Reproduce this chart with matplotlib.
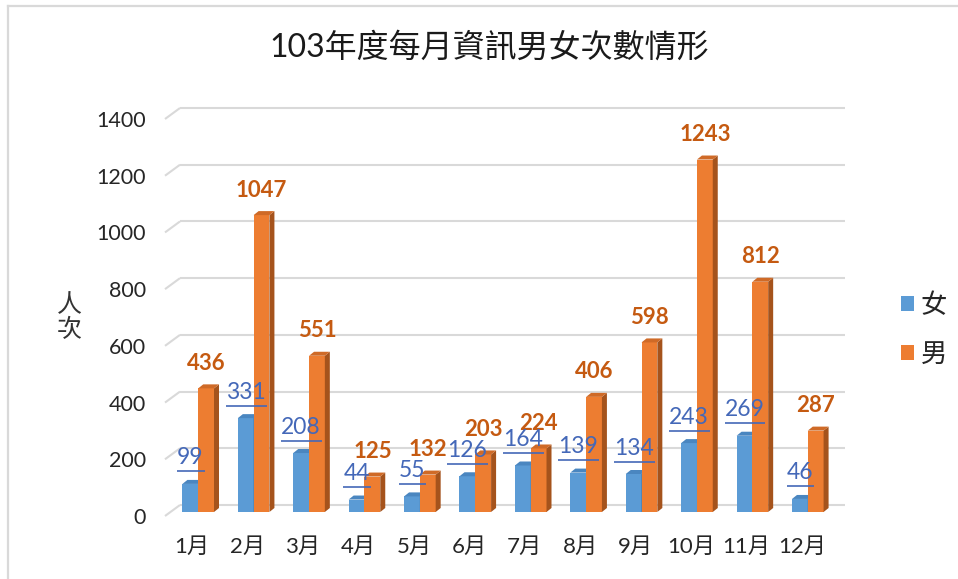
import matplotlib
matplotlib.use('Agg')
import matplotlib.pyplot as plt
from matplotlib.patches import Polygon, Patch
from matplotlib.lines import Line2D
from matplotlib.transforms import ScaledTranslation
import numpy as np

# ---------------- data ----------------
months = ['1月', '2月', '3月', '4月', '5月', '6月', '7月', '8月', '9月', '10月', '11月', '12月']
female = [99, 331, 208, 44, 55, 126, 164, 139, 134, 243, 269, 46]
male = [436, 1047, 551, 125, 132, 203, 224, 406, 598, 1243, 812, 287]
yticks = [0, 200, 400, 600, 800, 1000, 1200, 1400]
series_names = ['女', '男']
title = '103年度每月資訊男女次數情形'
ylabel = '人次'

# ---------------- style ----------------
plt.rcParams['font.family'] = ['Lato', 'Noto Sans CJK TC', 'DejaVu Sans']
W, H = 958, 579
DPI = 100
fig = plt.figure(figsize=(W / DPI, H / DPI), dpi=DPI)
fig.patch.set_facecolor('white')

ax_left, ax_right, ax_bottom, ax_top = 170.5, 835.5, 512, 115
ax = fig.add_axes([ax_left / W, (H - ax_bottom) / H, (ax_right - ax_left) / W, (ax_bottom - ax_top) / H])
xmin, xmax = -0.5, 11.5
ymin, ymax = 0, 1400
ax.set_xlim(xmin, xmax)
ax.set_ylim(ymin, ymax)
ax.patch.set_alpha(0)
for s in ax.spines.values():
    s.set_visible(False)

ux = (xmax - xmin) / (ax_right - ax_left)   # data units per pixel (x)
uy = (ymax - ymin) / (ax_bottom - ax_top)   # data units per pixel (y)

grid_c = '#D9D9D9'
# back wall gridlines + left wall diagonals
for v in yticks:
    ax.plot([xmin + 9.5 * ux, xmax + 9.5 * ux], [v + 7 * uy, v + 7 * uy],
            color=grid_c, lw=1.5, clip_on=False, zorder=0, solid_capstyle='butt')
    ax.plot([xmin - 5.5 * ux, xmin + 9.5 * ux], [v - 4 * uy, v + 7 * uy],
            color=grid_c, lw=1.5, clip_on=False, zorder=0, solid_capstyle='butt')

x = np.arange(len(months))
w = 0.285
ddx, ddy = 5 * ux, 4 * uy

colors = {
    '女': ('#5B9BD5', '#4A86C0', '#41719C'),
    '男': ('#ED7D31', '#CF6A27', '#A5531C'),
}

def draw_3d(bars, top, side, z):
    for b in bars:
        x0 = b.get_x()
        x1 = x0 + b.get_width()
        h = b.get_height()
        ax.add_patch(Polygon([(x1, 0), (x1 + ddx, ddy), (x1 + ddx, h + ddy), (x1, h)],
                             closed=True, facecolor=side, edgecolor='none', zorder=z, clip_on=False))
        ax.add_patch(Polygon([(x0, h), (x0 + ddx, h + ddy), (x1 + ddx, h + ddy), (x1, h)],
                             closed=True, facecolor=top, edgecolor='none', zorder=z, clip_on=False))

fb = ax.bar(x - w, female, w, align='edge', color=colors['女'][0], zorder=2, clip_on=False)
draw_3d(fb, colors['女'][1], colors['女'][2], 2)
mb = ax.bar(x, male, w, align='edge', color=colors['男'][0], zorder=3, clip_on=False)
draw_3d(mb, colors['男'][1], colors['男'][2], 3)

# ticks
ax.set_yticks(yticks)
ax.set_yticklabels([str(t) for t in yticks])
ax.set_xticks(x)
ax.set_xticklabels(months)
ax.tick_params(axis='y', length=0, pad=(ax_left - 146) * 0.72, labelsize=15.5, labelcolor='#262626')
ax.tick_params(axis='x', length=0, pad=18, labelsize=16, labelcolor='#262626')
for lbl in ax.get_yticklabels():
    lbl.set_transform(lbl.get_transform() + ScaledTranslation(0, -4 / DPI, fig.dpi_scale_trans))
for lbl in ax.get_xticklabels():
    lbl.set_transform(lbl.get_transform() + ScaledTranslation(-6 / DPI, 0, fig.dpi_scale_trans))

# data labels
blue_lbl_c = '#4468B8'
orange_lbl_c = '#C55A11'
for xi, v in zip(x, male):
    ax.annotate(str(v), xy=(xi + w / 2, v), xytext=(0, 25 * 0.72), textcoords='offset points',
                ha='center', va='center', fontsize=16, fontweight='bold', color=orange_lbl_c,
                zorder=6, annotation_clip=False)
blue_texts = []
for xi, v in zip(x, female):
    t = ax.annotate(str(v), xy=(xi - w / 2, v), xytext=(0, 26 * 0.72), textcoords='offset points',
                    ha='center', va='center', fontsize=16.5, color=blue_lbl_c,
                    zorder=6, annotation_clip=False)
    blue_texts.append((t, v))

fig.canvas.draw()
inv = ax.transData.inverted()
for t, v in blue_texts:
    bb = t.get_window_extent()
    (dx0, _), (dx1, _) = inv.transform([(bb.x0, 0), (bb.x1 + 1, 0)])
    ax.plot([dx0, dx1], [v + 12.5 * uy, v + 12.5 * uy], color=blue_lbl_c, lw=1.2,
            clip_on=False, zorder=6, solid_capstyle='butt')

# legend
handles = [Patch(facecolor=colors[n][0], edgecolor='none') for n in series_names]
fig.legend(handles, series_names, loc='center left', bbox_to_anchor=(877 / W, 1 - 330 / H),
           frameon=False, fontsize=19, handlelength=0.5, handleheight=0.5,
           handletextpad=0.25, labelspacing=0.9, labelcolor='#262626')

# title and y label
fig.text(489 / W, 1 - 47 / H, title, ha='center', va='center', fontsize=23, color='#1a1a1a')
fig.text(69 / W, 1 - 317 / H, '人\n次', ha='center', va='center', fontsize=18,
         linespacing=1.05, color='#333333')

# chart frame (top and left edges visible)
fig.add_artist(Line2D([8 / W, 8 / W], [0, 1 - 6 / H], transform=fig.transFigure, color='#D9D9D9', lw=1.6))
fig.add_artist(Line2D([8 / W, 1], [1 - 6 / H, 1 - 6 / H], transform=fig.transFigure, color='#D9D9D9', lw=1.6))

fig.savefig('out.png', dpi=DPI)
